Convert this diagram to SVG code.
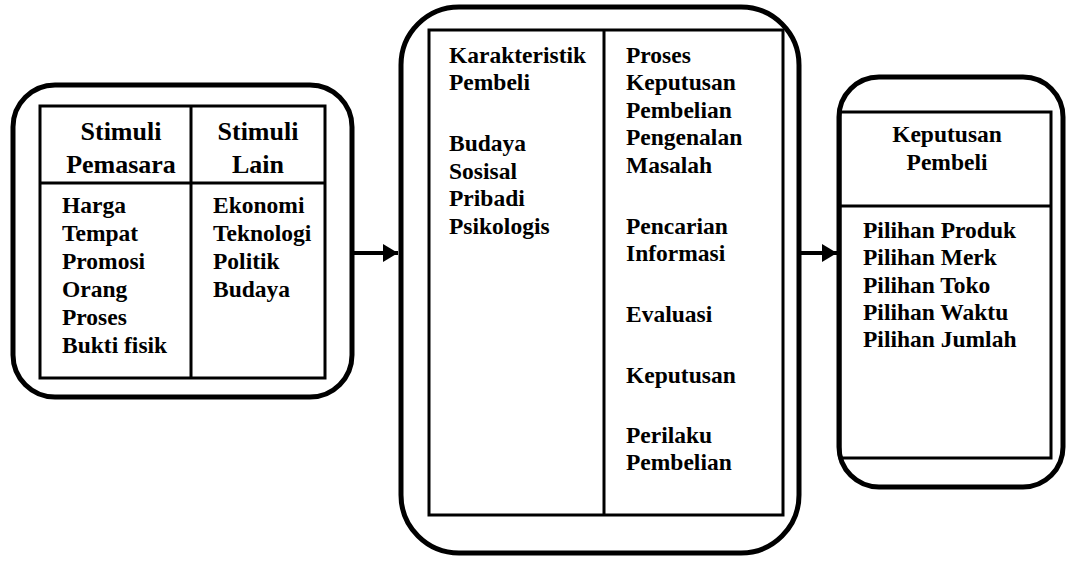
<svg xmlns="http://www.w3.org/2000/svg" width="1067" height="562" viewBox="0 0 1067 562">
<style>
.outer{fill:none;stroke:#000;stroke-width:5}
.inner{fill:none;stroke:#000;stroke-width:3}
.t{font-family:'Liberation Serif',Tinos,'Times New Roman',Times,'Nimbus Roman','DejaVu Serif',serif;font-weight:700;font-size:23.5px;fill:#000}
.h{font-size:26px;text-anchor:middle}
.c{text-anchor:middle}
.conn{stroke:#000;stroke-width:4;fill:none}
</style>
<defs>
<marker id="ah" markerUnits="userSpaceOnUse" markerWidth="16" markerHeight="18" refX="15" refY="9" orient="auto">
<path d="M0,0 L15,9 L0,18 Z" fill="#000"/>
</marker>
</defs>
<rect width="1067" height="562" fill="#fff"/>
<g id="stimuli" font-family="Liberation Serif, serif">
<rect class="outer" x="13" y="85" width="339" height="312" rx="42"/>
<rect class="inner" x="40" y="106" width="285" height="272"/>
<line class="inner" x1="191" y1="106" x2="191" y2="378"/>
<line class="inner" x1="40" y1="183" x2="325" y2="183"/>
<text class="t h" x="121" y="140">Stimuli</text>
<text class="t h" x="121" y="173">Pemasara</text>
<text class="t h" x="258" y="140">Stimuli</text>
<text class="t h" x="258" y="173">Lain</text>
<text class="t" x="62" y="213">Harga</text>
<text class="t" x="62" y="241">Tempat</text>
<text class="t" x="62" y="269">Promosi</text>
<text class="t" x="62" y="297">Orang</text>
<text class="t" x="62" y="325">Proses</text>
<text class="t" x="62" y="353">Bukti fisik</text>
<text class="t" x="213" y="213">Ekonomi</text>
<text class="t" x="213" y="241">Teknologi</text>
<text class="t" x="213" y="269">Politik</text>
<text class="t" x="213" y="297">Budaya</text>
</g>
<g id="pembeli" font-family="Liberation Serif, serif">
<rect class="outer" x="401" y="7" width="398" height="546" rx="58"/>
<rect class="inner" x="429" y="30" width="354" height="485"/>
<line class="inner" x1="604" y1="30" x2="604" y2="515"/>
<text class="t" x="449" y="63">Karakteristik</text>
<text class="t" x="449" y="90">Pembeli</text>
<text class="t" x="449" y="151">Budaya</text>
<text class="t" x="449" y="179">Sosisal</text>
<text class="t" x="449" y="206">Pribadi</text>
<text class="t" x="449" y="234">Psikologis</text>
<text class="t" x="626" y="63">Proses</text>
<text class="t" x="626" y="90">Keputusan</text>
<text class="t" x="626" y="118">Pembelian</text>
<text class="t" x="626" y="145">Pengenalan</text>
<text class="t" x="626" y="173">Masalah</text>
<text class="t" x="626" y="234">Pencarian</text>
<text class="t" x="626" y="261">Informasi</text>
<text class="t" x="626" y="322">Evaluasi</text>
<text class="t" x="626" y="383">Keputusan</text>
<text class="t" x="626" y="443">Perilaku</text>
<text class="t" x="626" y="470">Pembelian</text>
</g>
<g id="keputusan" font-family="Liberation Serif, serif">
<rect class="outer" x="839" y="77" width="224" height="410" rx="40"/>
<rect class="inner" x="840" y="112" width="211" height="346"/>
<line class="inner" x1="840" y1="206" x2="1051" y2="206"/>
<text class="t c" x="947" y="142">Keputusan</text>
<text class="t c" x="947" y="170">Pembeli</text>
<text class="t" x="863" y="238">Pilihan Produk</text>
<text class="t" x="863" y="265">Pilihan Merk</text>
<text class="t" x="863" y="293">Pilihan Toko</text>
<text class="t" x="863" y="320">Pilihan Waktu</text>
<text class="t" x="863" y="347">Pilihan Jumlah</text>
</g>
<g id="connectors">
<line class="conn" x1="354" y1="253" x2="398" y2="253" marker-end="url(#ah)"/>
<line class="conn" x1="801" y1="253" x2="837" y2="253" marker-end="url(#ah)"/>
</g>
</svg>
